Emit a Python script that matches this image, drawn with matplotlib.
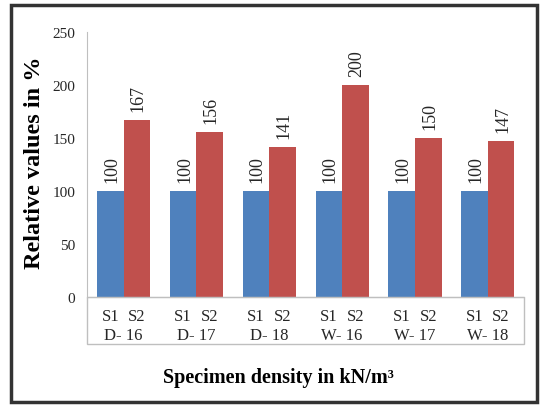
import matplotlib.pyplot as plt
from matplotlib.patches import Rectangle
import numpy as np

groups = ['D- 16', 'D- 17', 'D- 18', 'W- 16', 'W- 17', 'W- 18']
s1 = [100, 100, 100, 100, 100, 100]
s2 = [167, 156, 141, 200, 150, 147]
yticks = [0, 50, 100, 150, 200, 250]

blue = '#4F81BD'
red = '#C0504D'
axis_gray = '#BFBFBF'

plt.rcParams['font.family'] = 'Liberation Serif'

fig = plt.figure(figsize=(5.41, 4.06), dpi=100)
ax = fig.add_axes([0.161, 0.266, 0.808, 0.653])

x = np.arange(len(groups))
w = 0.365
b1 = ax.bar(x - w / 2, s1, w, color=blue)
b2 = ax.bar(x + w / 2, s2, w, color=red)

for bars in (b1, b2):
    for bar in bars:
        h = bar.get_height()
        ax.annotate(f'{h:.0f}', xy=(bar.get_x() + bar.get_width() / 2, h),
                    xytext=(1, 6.5), textcoords='offset points', rotation=90,
                    ha='center', va='bottom', fontsize=13, color='#262626')

ax.set_xlim(-0.5, len(groups) - 0.5)
ax.set_ylim(0, 250)
ax.set_yticks(yticks)
ax.tick_params(axis='y', length=0, pad=8.5, labelsize=11, labelcolor='#262626')

ticks = np.concatenate([x - w / 2, x + w / 2])
ax.set_xticks(ticks)
ax.set_xticklabels(['S1'] * len(groups) + ['S2'] * len(groups))
ax.tick_params(axis='x', length=0, pad=8, labelsize=12, labelcolor='#262626')

trans = ax.get_xaxis_transform()
for xi, g in zip(x, groups):
    ax.text(xi, -0.145, g, transform=trans, ha='center', va='center',
            fontsize=12, color='#262626')

for s in ['top', 'right']:
    ax.spines[s].set_visible(False)
ax.spines['left'].set_color(axis_gray)
ax.spines['bottom'].set_color(axis_gray)

# box around the category labels
box = Rectangle((0, -0.177), 1, 0.177, transform=ax.transAxes, fill=False,
                edgecolor=axis_gray, linewidth=1, clip_on=False)
ax.add_patch(box)

fig.text(0.515, 0.068, 'Specimen density in kN/m³', ha='center', va='center',
         fontsize=14.5, fontweight='bold')
fig.text(0.063, 0.6, 'Relative values in %', ha='center', va='center',
         rotation=90, fontsize=17.5, fontweight='bold')

# outer frame
frame = Rectangle((0.02, 0.008), 0.972, 0.978, transform=fig.transFigure,
                  fill=False, edgecolor='#333333', linewidth=2.5)
fig.patches.append(frame)

fig.savefig('out.png', dpi=100, facecolor='white')
